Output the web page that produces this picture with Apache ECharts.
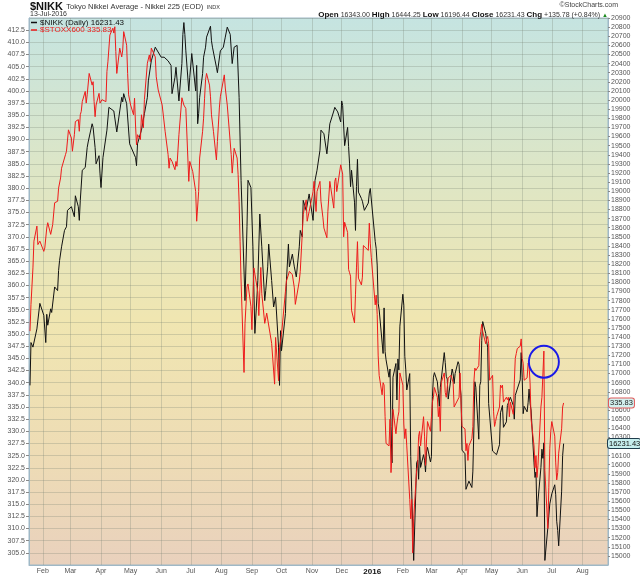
<!DOCTYPE html>
<html>
<head>
<meta charset="utf-8" />
<title>$NIKK Tokyo Nikkei Average vs $STOXX600</title>
<script src="https://cdn.jsdelivr.net/npm/echarts@6/dist/echarts.min.js"></script>
<style>
  html, body { margin: 0; padding: 0; background: #fff; }
  #main { width: 640px; height: 576px; }
</style>
</head>
<body>
<div id="main"></div>
<script type="text/javascript">
// Nikkei 225 daily closes (right axis)
var nikkeiDates = [
  '2015-01-19','2015-01-20','2015-01-22','2015-01-26','2015-01-29','2015-01-30','2015-02-02','2015-02-04','2015-02-05','2015-02-06',
  '2015-02-09','2015-02-10','2015-02-13','2015-02-16','2015-02-17','2015-02-18','2015-02-20','2015-02-23','2015-02-25','2015-02-26',
  '2015-03-02','2015-03-03','2015-03-05','2015-03-06','2015-03-09','2015-03-10','2015-03-11','2015-03-13','2015-03-16','2015-03-18',
  '2015-03-19','2015-03-23','2015-03-24','2015-03-26','2015-03-27','2015-03-30','2015-03-31','2015-04-01','2015-04-03','2015-04-07',
  '2015-04-09','2015-04-10','2015-04-14','2015-04-17','2015-04-20','2015-04-22','2015-04-23','2015-04-24','2015-04-27','2015-04-30',
  '2015-05-01','2015-05-06','2015-05-07','2015-05-08','2015-05-12','2015-05-15','2015-05-18','2015-05-19','2015-05-22','2015-05-26',
  '2015-06-01','2015-06-04','2015-06-08','2015-06-11','2015-06-12','2015-06-15','2015-06-16','2015-06-19','2015-06-22','2015-06-23',
  '2015-06-24','2015-06-25','2015-06-26','2015-06-29','2015-06-30','2015-07-02','2015-07-06','2015-07-07','2015-07-08','2015-07-09',
  '2015-07-10','2015-07-13','2015-07-14','2015-07-16','2015-07-17','2015-07-21','2015-07-22','2015-07-23','2015-07-27','2015-07-28',
  '2015-07-31','2015-08-03','2015-08-05','2015-08-07','2015-08-10','2015-08-12','2015-08-14','2015-08-17','2015-08-19','2015-08-21',
  '2015-08-25','2015-08-27','2015-08-28','2015-08-31','2015-09-02','2015-09-04','2015-09-07','2015-09-09','2015-09-11','2015-09-14',
  '2015-09-15','2015-09-17','2015-09-18','2015-09-21','2015-09-23','2015-09-25','2015-09-28','2015-09-29','2015-09-30','2015-10-01',
  '2015-10-05','2015-10-06','2015-10-08','2015-10-09','2015-10-12','2015-10-14','2015-10-16','2015-10-19','2015-10-20','2015-10-22',
  '2015-10-23','2015-10-26','2015-10-29','2015-11-02','2015-11-04','2015-11-06','2015-11-09','2015-11-10','2015-11-12','2015-11-13',
  '2015-11-16','2015-11-18','2015-11-19','2015-11-23','2015-11-24','2015-11-27','2015-11-30','2015-12-01','2015-12-02','2015-12-03',
  '2015-12-04','2015-12-07','2015-12-08','2015-12-09','2015-12-10','2015-12-11','2015-12-14','2015-12-15','2015-12-16','2015-12-17',
  '2015-12-18','2015-12-21','2015-12-22','2015-12-24','2015-12-25','2015-12-28','2015-12-29','2015-12-30',
  '2016-01-04','2016-01-05','2016-01-06','2016-01-07','2016-01-08','2016-01-12','2016-01-13','2016-01-14','2016-01-15','2016-01-18',
  '2016-01-19','2016-01-20','2016-01-21','2016-01-22','2016-01-25','2016-01-26','2016-01-27','2016-01-28','2016-01-29','2016-02-01',
  '2016-02-02','2016-02-03','2016-02-04','2016-02-05','2016-02-08','2016-02-09','2016-02-10','2016-02-12','2016-02-15','2016-02-16',
  '2016-02-17','2016-02-18','2016-02-19','2016-02-22','2016-02-23','2016-02-24','2016-02-25','2016-02-26','2016-02-29','2016-03-01',
  '2016-03-02','2016-03-03','2016-03-04','2016-03-07','2016-03-08','2016-03-09','2016-03-10','2016-03-11','2016-03-14','2016-03-15',
  '2016-03-16','2016-03-17','2016-03-18','2016-03-22','2016-03-23','2016-03-24','2016-03-25','2016-03-28','2016-03-29','2016-03-30',
  '2016-03-31','2016-04-01','2016-04-04','2016-04-05','2016-04-06','2016-04-07','2016-04-08','2016-04-11','2016-04-12','2016-04-13',
  '2016-04-14','2016-04-15','2016-04-18','2016-04-19','2016-04-20','2016-04-21','2016-04-22','2016-04-25','2016-04-26','2016-04-27',
  '2016-04-28','2016-05-02','2016-05-06','2016-05-09','2016-05-10','2016-05-11','2016-05-12','2016-05-13','2016-05-16','2016-05-17',
  '2016-05-18','2016-05-19','2016-05-20','2016-05-23','2016-05-24','2016-05-25','2016-05-26','2016-05-27','2016-05-30','2016-05-31',
  '2016-06-01','2016-06-02','2016-06-03','2016-06-06','2016-06-07','2016-06-08','2016-06-09','2016-06-10','2016-06-13','2016-06-14',
  '2016-06-15','2016-06-16','2016-06-17','2016-06-20','2016-06-21','2016-06-22','2016-06-23','2016-06-24','2016-06-27','2016-06-28',
  '2016-06-29','2016-06-30','2016-07-01','2016-07-04','2016-07-05','2016-07-06','2016-07-07','2016-07-08','2016-07-11','2016-07-12',
  '2016-07-13'
];
var nikkeiValues = [
  16870,17340,17290,17490,17770,17780,17640,17340,17650,17530,
  17710,17670,17950,17910,18130,18240,18390,18570,18610,18790,
  18830,18810,18720,18950,18830,18680,18900,19230,19260,19480,
  19540,19740,19700,19480,19300,19390,19190,19040,19370,19670,
  19920,19900,19880,19650,19880,20030,19980,20070,19960,19520,
  19530,19370,19280,19520,19670,19850,20030,20210,20430,20580,
  20470,20470,20430,20380,20070,20250,20360,19990,20400,20720,
  20850,20720,20540,20100,20250,20510,20100,20380,19740,19850,
  20030,20290,20470,20580,20690,20810,20650,20580,20360,20300,
  20540,20580,20690,20800,20720,20400,20580,20600,20030,19120,
  17800,18610,19120,19040,18390,17440,18020,18750,18390,17800,
  17910,18170,18420,18020,17730,17840,17290,16870,17470,17250,
  17660,18020,18420,18170,18310,18170,18060,18390,18570,18500,
  18900,18790,18970,18680,19120,19230,19450,19670,19680,19630,
  19410,19630,19740,19880,19920,19870,19760,19990,19940,19940,
  19500,19700,19490,19300,19050,19230,18880,18570,19050,19350,
  18990,18920,18890,18790,18770,18870,18980,19030,
  18450,18370,18190,17770,17700,17220,17720,17240,17150,16960,
  17050,16420,16020,16960,17110,16710,17160,17040,17520,17870,
  17750,17190,17040,16820,17000,16090,15710,14950,16020,16050,
  15840,16200,15970,16110,16050,15920,16140,16190,16030,16090,
  16750,16960,17010,16910,16780,16640,16850,16940,17230,17120,
  16970,16940,16720,17050,17000,16890,17000,17130,17100,16880,
  16760,16160,16120,15730,15720,15750,15820,15750,15930,16380,
  16910,16850,16280,16870,16910,17360,17570,17440,17350,17290,
  16670,16150,16110,16220,16570,16580,16650,16410,16470,16650,
  16640,16650,16740,16650,16500,16760,16770,16830,16930,17230,
  16960,16560,16640,16580,16680,16830,16670,16600,16020,15860,
  15920,15430,15600,15970,16170,16070,16240,14950,15310,15320,
  15570,15580,15680,15780,15670,15380,15280,15110,15710,16100,
  16231.43
];

// STOXX Europe 600 daily closes (left axis)
var stoxxDates = [
  '2015-01-19','2015-01-20','2015-01-22','2015-01-23','2015-01-26','2015-01-27','2015-01-29','2015-02-02','2015-02-03','2015-02-05',
  '2015-02-06','2015-02-09','2015-02-11','2015-02-12','2015-02-13','2015-02-16','2015-02-17','2015-02-19','2015-02-20','2015-02-24',
  '2015-02-25','2015-02-27','2015-03-02','2015-03-03','2015-03-05','2015-03-06','2015-03-09','2015-03-10','2015-03-11','2015-03-12',
  '2015-03-13','2015-03-16','2015-03-17','2015-03-18','2015-03-20','2015-03-23','2015-03-24','2015-03-25','2015-03-26','2015-03-27',
  '2015-03-30','2015-03-31','2015-04-02','2015-04-06','2015-04-07','2015-04-08','2015-04-10','2015-04-13','2015-04-14','2015-04-15',
  '2015-04-16','2015-04-17','2015-04-20','2015-04-21','2015-04-22','2015-04-23','2015-04-24','2015-04-27','2015-04-28','2015-04-29',
  '2015-05-01','2015-05-04','2015-05-05','2015-05-06','2015-05-07','2015-05-08','2015-05-11','2015-05-12','2015-05-14','2015-05-15',
  '2015-05-18','2015-05-20','2015-05-21','2015-05-22','2015-05-26','2015-05-27','2015-05-29','2015-06-02','2015-06-05','2015-06-08',
  '2015-06-09','2015-06-10','2015-06-12','2015-06-15','2015-06-16','2015-06-17','2015-06-19','2015-06-22','2015-06-24','2015-06-26',
  '2015-06-29','2015-06-30','2015-07-01','2015-07-03','2015-07-06','2015-07-07','2015-07-08','2015-07-09','2015-07-10','2015-07-13',
  '2015-07-14','2015-07-15','2015-07-16','2015-07-17','2015-07-20','2015-07-21','2015-07-22','2015-07-24','2015-07-27','2015-07-28',
  '2015-07-29','2015-07-30','2015-07-31','2015-08-04','2015-08-05','2015-08-07','2015-08-11','2015-08-12','2015-08-14','2015-08-17',
  '2015-08-18','2015-08-19','2015-08-20','2015-08-21','2015-08-24','2015-08-25','2015-08-27','2015-08-28','2015-08-31','2015-09-01',
  '2015-09-03','2015-09-07','2015-09-08','2015-09-10','2015-09-11','2015-09-14','2015-09-16','2015-09-21','2015-09-24','2015-09-25',
  '2015-09-28','2015-09-29','2015-10-01','2015-10-05','2015-10-06','2015-10-09','2015-10-12','2015-10-14','2015-10-15','2015-10-19',
  '2015-10-20','2015-10-22','2015-10-23','2015-10-26','2015-10-27','2015-10-29','2015-11-02','2015-11-03','2015-11-05','2015-11-06',
  '2015-11-09','2015-11-10','2015-11-12','2015-11-13','2015-11-16','2015-11-17','2015-11-19','2015-11-20','2015-11-23','2015-11-24',
  '2015-11-25','2015-11-26','2015-11-30','2015-12-01','2015-12-02','2015-12-03','2015-12-04','2015-12-07','2015-12-08','2015-12-09',
  '2015-12-10','2015-12-11','2015-12-14','2015-12-15','2015-12-16','2015-12-17','2015-12-18','2015-12-21','2015-12-22','2015-12-23',
  '2015-12-24','2015-12-28','2015-12-29','2015-12-30','2015-12-31',
  '2016-01-04','2016-01-05','2016-01-06','2016-01-07','2016-01-08','2016-01-11','2016-01-12','2016-01-13','2016-01-14','2016-01-15',
  '2016-01-18','2016-01-19','2016-01-20','2016-01-21','2016-01-22','2016-01-25','2016-01-26','2016-01-27','2016-01-28','2016-01-29',
  '2016-02-01','2016-02-02','2016-02-03','2016-02-04','2016-02-05','2016-02-08','2016-02-09','2016-02-10','2016-02-11','2016-02-12',
  '2016-02-15','2016-02-16','2016-02-17','2016-02-18','2016-02-19','2016-02-22','2016-02-23','2016-02-24','2016-02-25','2016-02-26',
  '2016-02-29','2016-03-01','2016-03-02','2016-03-03','2016-03-04','2016-03-07','2016-03-08','2016-03-09','2016-03-10','2016-03-11',
  '2016-03-14','2016-03-15','2016-03-16','2016-03-17','2016-03-18','2016-03-21','2016-03-22','2016-03-23','2016-03-24','2016-03-29',
  '2016-03-30','2016-03-31','2016-04-01','2016-04-04','2016-04-05','2016-04-06','2016-04-07','2016-04-08','2016-04-11','2016-04-12',
  '2016-04-13','2016-04-14','2016-04-15','2016-04-18','2016-04-19','2016-04-20','2016-04-21','2016-04-22','2016-04-25','2016-04-26',
  '2016-04-27','2016-04-28','2016-04-29','2016-05-02','2016-05-03','2016-05-04','2016-05-05','2016-05-06','2016-05-09','2016-05-10',
  '2016-05-11','2016-05-12','2016-05-13','2016-05-16','2016-05-17','2016-05-18','2016-05-19','2016-05-20','2016-05-23','2016-05-24',
  '2016-05-25','2016-05-26','2016-05-27','2016-05-30','2016-05-31','2016-06-01','2016-06-02','2016-06-03','2016-06-06','2016-06-07',
  '2016-06-08','2016-06-09','2016-06-10','2016-06-13','2016-06-14','2016-06-15','2016-06-16','2016-06-17','2016-06-20','2016-06-21',
  '2016-06-22','2016-06-23','2016-06-24','2016-06-27','2016-06-28','2016-06-29','2016-06-30','2016-07-01','2016-07-04','2016-07-05',
  '2016-07-06','2016-07-07','2016-07-08','2016-07-11','2016-07-12','2016-07-13'
];
var stoxxValues = [
  350.6,356.1,363.6,369.1,372.2,368.4,369.1,367.0,367.7,371.8,
  372.9,370.5,372.5,372.9,377.0,377.3,380.0,382.1,384.1,386.9,
  387.6,392.0,390.3,387.6,391.0,393.7,394.1,391.7,395.1,395.8,
  397.8,399.9,397.5,399.2,403.6,401.2,401.9,397.8,394.7,397.1,
  399.5,397.5,398.2,397.8,404.0,406.0,411.5,412.9,411.9,413.2,
  408.1,403.6,408.8,409.1,407.0,408.4,412.2,409.4,403.6,399.2,
  397.1,395.1,398.5,393.0,388.9,391.0,390.0,395.1,392.4,398.2,
  405.7,407.4,406.0,408.8,407.0,402.9,400.2,397.1,391.7,386.9,
  384.1,386.2,385.5,383.8,385.5,384.5,391.0,398.6,397.1,396.4,
  381.4,385.5,385.3,383.4,379.3,373.2,372.9,379.3,386.2,391.7,
  394.4,398.5,402.3,403.6,401.2,398.8,395.1,391.7,385.8,389.6,
  393.0,396.5,398.8,403.3,400.6,397.1,386.9,383.1,388.2,386.2,
  382.8,377.3,369.1,360.9,342.1,352.2,359.7,360.3,355.7,350.9,
  363.6,358.6,353.8,363.7,358.3,352.2,354.3,348.1,339.7,349.3,
  340.4,347.2,349.9,358.8,360.9,362.9,362.2,359.5,356.1,360.9,
  362.9,370.5,374.6,377.6,373.2,375.2,379.3,381.4,375.2,379.3,
  381.4,377.3,373.9,371.8,369.8,375.2,381.4,380.0,375.9,381.4,
  382.1,379.3,384.8,385.2,382.9,370.0,373.0,370.9,363.3,362.6,
  361.9,354.9,352.3,358.2,363.6,369.0,361.5,360.1,361.7,368.2,
  368.5,367.2,372.8,368.7,365.8,
  356.0,358.0,354.0,345.5,341.5,337.5,340.0,339.5,333.0,327.5,
  327.0,332.5,321.5,325.0,334.5,329.5,331.5,333.0,334.0,342.0,
  339.5,331.5,328.5,330.5,327.0,316.0,312.0,316.0,305.0,312.0,
  322.0,323.0,329.0,330.0,327.0,333.0,329.0,323.0,328.0,332.0,
  330.0,333.0,336.0,337.0,339.0,337.0,333.0,335.0,330.0,340.0,
  342.0,338.0,337.0,339.0,341.0,341.5,341.5,340.0,335.0,337.0,
  342.0,336.0,331.0,330.5,326.0,327.5,324.0,327.0,328.5,331.0,
  340.0,343.0,342.5,343.5,349.0,350.5,352.0,350.5,348.0,349.0,
  349.5,348.0,340.5,341.5,334.0,331.0,332.0,333.0,335.0,339.5,
  339.0,339.5,336.0,337.0,336.5,337.0,333.0,336.0,333.5,340.0,
  345.0,346.0,347.0,347.5,349.0,345.0,344.0,340.5,341.0,344.0,
  343.5,340.0,332.5,327.0,322.5,325.0,320.5,323.0,335.0,337.0,
  337.0,346.5,322.0,310.0,318.5,326.5,330.0,332.0,329.0,323.5,
  320.0,321.5,325.5,330.5,335.0,335.83
];

var monthNames = ['Jan','Feb','Mar','Apr','May','Jun','Jul','Aug','Sep','Oct','Nov','Dec'];
var nikkeiLast = nikkeiValues[nikkeiValues.length - 1];
var stoxxLast = stoxxValues[stoxxValues.length - 1];

var nikkeiData = nikkeiDates.map(function (d, i) { return [d, nikkeiValues[i]]; });
var stoxxData = stoxxDates.map(function (d, i) { return [d, stoxxValues[i]]; });

var FONT = '"Liberation Sans", Arial, sans-serif';
var DAY = 86400000;

var myChart = echarts.init(document.getElementById('main'));

myChart.setOption({
  animation: false,
  backgroundColor: '#ffffff',
  textStyle: { fontFamily: FONT },
  grid: {
    left: 29, right: 32, top: 18, bottom: 11,
    show: true,
    borderColor: '#9fb8c6',
    borderWidth: 1,
    outerBoundsMode: 'none',
    backgroundColor: new echarts.graphic.LinearGradient(0, 0, 0, 1, [
      { offset: 0, color: '#c5e4e1' },
      { offset: 0.28, color: '#dde6c6' },
      { offset: 0.55, color: '#f0e6b1' },
      { offset: 0.8, color: '#eedcb5' },
      { offset: 1, color: '#e9d1bd' }
    ])
  },
  xAxis: {
    type: 'time',
    min: '2015-01-18',
    max: '2016-08-27',
    splitNumber: 20,
    minInterval: 28 * DAY,
    maxInterval: 28 * DAY,
    axisLine: { show: true, lineStyle: { color: '#9fb8c6' } },
    axisTick: { show: false },
    splitLine: { show: true, lineStyle: { color: 'rgba(120,130,115,0.28)', width: 1 } },
    axisLabel: {
      fontSize: 7,
      color: '#555',
      margin: 3,
      showMinLabel: false,
      showMaxLabel: false,
      formatter: function (value) {
        var d = new Date(value);
        if (d.getDate() !== 1) return '';
        if (d.getMonth() === 0) return '{yr|' + d.getFullYear() + '}';
        return monthNames[d.getMonth()];
      },
      rich: { yr: { fontSize: 8, fontWeight: 'bold', color: '#111' } }
    }
  },
  yAxis: [
    {
      type: 'value',
      position: 'left',
      min: 302.5,
      max: 415,
      interval: 2.5,
      axisLine: { show: true, lineStyle: { color: '#9fb8c6' } },
      axisTick: { show: true, length: 3, lineStyle: { color: '#888' } },
      splitLine: { show: true, lineStyle: { color: 'rgba(120,130,115,0.28)', width: 1 } },
      axisLabel: {
        fontSize: 7, color: '#555', margin: 4,
        showMinLabel: false, showMaxLabel: false,
        formatter: function (v) { return v.toFixed(1); }
      }
    },
    {
      type: 'value',
      position: 'right',
      min: 14900,
      max: 20900,
      interval: 100,
      axisLine: { show: true, lineStyle: { color: '#9fb8c6' } },
      axisTick: { show: true, length: 2, lineStyle: { color: '#888' } },
      splitLine: { show: false },
      axisLabel: {
        fontSize: 7, color: '#555', margin: 3,
        showMinLabel: false, showMaxLabel: true,
        formatter: function (v) { return String(Math.round(v)); }
      }
    }
  ],
  series: [
    {
      name: '$NIKK',
      type: 'line',
      yAxisIndex: 1,
      data: nikkeiData,
      symbol: 'none',
      silent: true,
      lineStyle: { color: '#111111', width: 1 },
      itemStyle: { color: '#111111' },
      z: 3
    },
    {
      name: '$STOXX600',
      type: 'line',
      yAxisIndex: 0,
      data: stoxxData,
      symbol: 'none',
      silent: true,
      lineStyle: { color: '#ee1b1b', width: 1 },
      itemStyle: { color: '#ee1b1b' },
      z: 4,
      markPoint: {
        silent: true,
        data: [{
          coord: ['2016-06-23', 344.3],
          symbol: 'circle',
          symbolSize: [30, 32],
          itemStyle: { color: 'rgba(0,0,0,0)', borderColor: '#1a1ae8', borderWidth: 2 },
          label: { show: false }
        }]
      }
    }
  ]
});

// last-value tags on the right axis and header texts
var yStoxx = myChart.convertToPixel({ yAxisIndex: 0 }, stoxxLast);
var yNikkei = myChart.convertToPixel({ yAxisIndex: 1 }, nikkeiLast);

myChart.setOption({
  graphic: [
    {
      type: 'text', left: 30, top: 1,
      style: {
        text: '{b|$NIKK} {n|Tokyo Nikkei Average - Nikkei 225 (EOD)} {s|INDX}',
        rich: {
          b: { font: 'bold 11px ' + FONT, fill: '#111' },
          n: { font: '7.5px ' + FONT, fill: '#333' },
          s: { font: '5.5px ' + FONT, fill: '#333' }
        }
      }
    },
    {
      type: 'text', left: 30, top: 11,
      style: { text: '13-Jul-2016', font: '7px ' + FONT, fill: '#333' }
    },
    {
      type: 'text', right: 22, top: 2,
      style: { text: '\u00A9StockCharts.com', font: '7px ' + FONT, fill: '#444' }
    },
    {
      type: 'text', right: 32, top: 11,
      style: {
        text: '{b|Open} 16343.00 {b|High} 16444.25 {b|Low} 16196.44 {b|Close} 16231.43 {b|Chg} +135.78 (+0.84%) {g|\u25B2}',
        font: '7px ' + FONT, fill: '#333',
        rich: {
          b: { font: 'bold 8px ' + FONT, fill: '#111' },
          g: { font: '6px ' + FONT, fill: '#1a8a1a' }
        }
      }
    },
    {
      type: 'line', shape: { x1: 31, y1: 22.5, x2: 37, y2: 22.5 },
      style: { stroke: '#111', lineWidth: 1.5 }, z: 10
    },
    {
      type: 'text', x: 40, y: 22.5, z: 10,
      style: { text: '$NIKK (Daily) 16231.43', font: '8px ' + FONT, fill: '#111', verticalAlign: 'middle' }
    },
    {
      type: 'line', shape: { x1: 31, y1: 30, x2: 37, y2: 30 },
      style: { stroke: '#ee1b1b', lineWidth: 1.5 }, z: 10
    },
    {
      type: 'text', x: 40, y: 30, z: 10,
      style: { text: '$STOXX600 335.83', font: '8px ' + FONT, fill: '#ee1b1b', verticalAlign: 'middle' }
    },
    {
      type: 'text', x: 609, y: yStoxx, z: 20,
      style: {
        text: stoxxLast.toFixed(2), font: '7.5px ' + FONT, fill: '#222',
        verticalAlign: 'middle', align: 'left',
        backgroundColor: '#d3f1ef', borderColor: '#e25a5a', borderWidth: 1,
        borderRadius: 2, padding: [1, 1, 0, 1]
      }
    },
    {
      type: 'text', x: 608, y: yNikkei, z: 20,
      style: {
        text: nikkeiLast.toFixed(2), font: '7.5px ' + FONT, fill: '#111',
        verticalAlign: 'middle', align: 'left',
        backgroundColor: '#c6eeee', borderColor: '#1f3d4c', borderWidth: 1,
        borderRadius: 2, padding: [1, 0, 0, 1]
      }
    }
  ]
});
</script>
</body>
</html>
